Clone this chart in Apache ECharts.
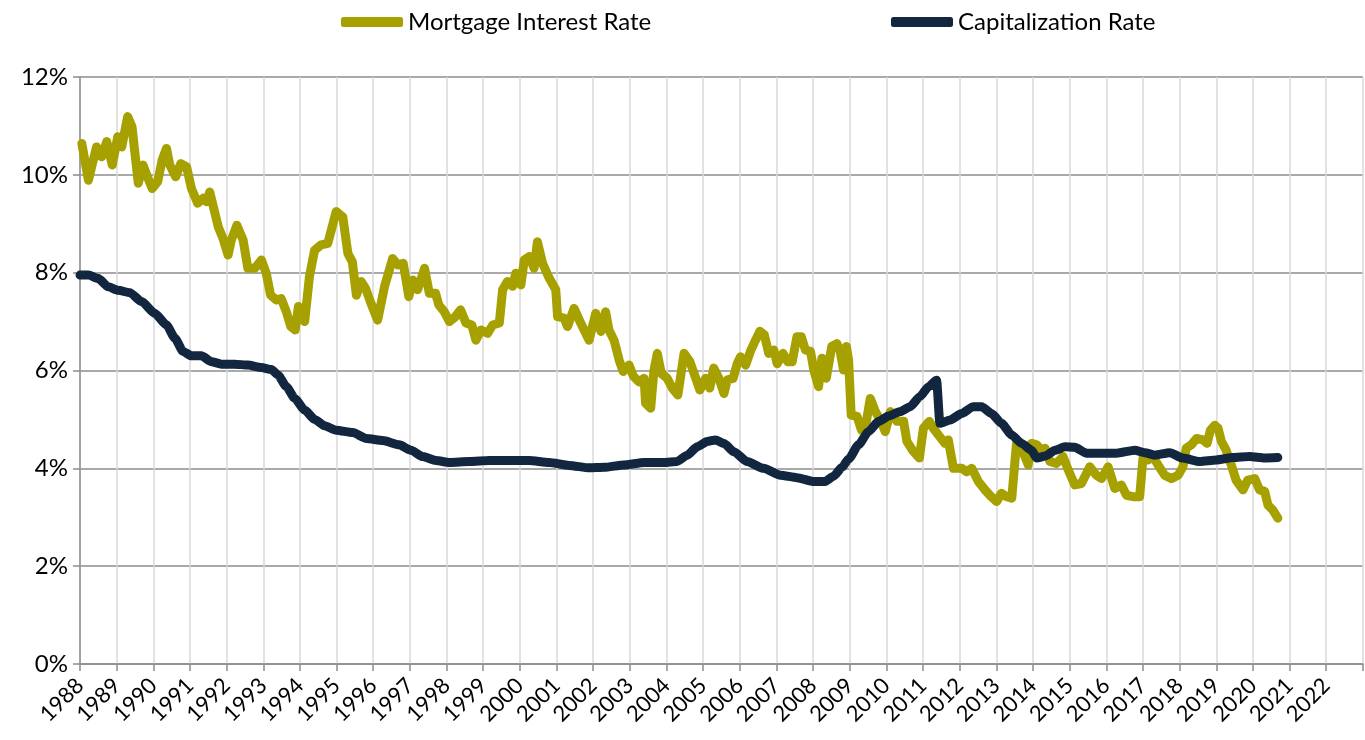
<!DOCTYPE html>
<html>
<head>
<meta charset="utf-8">
<title>Mortgage Interest Rate vs Capitalization Rate</title>
<script src="https://cdn.jsdelivr.net/npm/echarts@6/dist/echarts.min.js"></script>
<style>
	html, body { margin: 0; padding: 0; background: #ffffff; }
	#chart { width: 1365px; height: 740px; }
</style>
</head>
<body>
<div id="chart"></div>
<script>
// series names
const seriesNames = ['Mortgage Interest Rate', 'Capitalization Rate'];

// mortgage rate (decimal year, %)
const mortgageDates = [
	1988.05, 1988.23, 1988.45, 1988.59, 1988.73, 1988.88, 1989.03, 1989.14, 1989.30, 1989.42,
	1989.59, 1989.72, 1989.84, 1989.97, 1990.12, 1990.24, 1990.36, 1990.45, 1990.61, 1990.75,
	1990.91, 1991.04, 1991.21, 1991.36, 1991.45, 1991.54, 1991.66, 1991.77, 1991.90, 1992.04,
	1992.13, 1992.28, 1992.45, 1992.58, 1992.77, 1992.95, 1993.08, 1993.20, 1993.36, 1993.49,
	1993.63, 1993.75, 1993.87, 1993.96, 1994.13, 1994.26, 1994.40, 1994.58, 1994.76, 1994.99,
	1995.17, 1995.31, 1995.43, 1995.54, 1995.67, 1995.79, 1995.94, 1996.12, 1996.31, 1996.53,
	1996.67, 1996.82, 1996.97, 1997.08, 1997.21, 1997.40, 1997.53, 1997.70, 1997.79, 1997.94,
	1998.08, 1998.24, 1998.38, 1998.53, 1998.69, 1998.80, 1998.94, 1999.12, 1999.26, 1999.44,
	1999.53, 1999.66, 1999.80, 1999.89, 2000.03, 2000.12, 2000.26, 2000.39, 2000.48, 2000.62,
	2000.80, 2000.98, 2001.03, 2001.21, 2001.30, 2001.48, 2001.66, 2001.89, 2002.07, 2002.21,
	2002.34, 2002.43, 2002.57, 2002.71, 2002.82, 2002.98, 2003.10, 2003.25, 2003.39, 2003.43,
	2003.57, 2003.66, 2003.75, 2003.86, 2004.02, 2004.16, 2004.31, 2004.48, 2004.64, 2004.80,
	2004.91, 2005.07, 2005.18, 2005.29, 2005.43, 2005.57, 2005.66, 2005.82, 2005.93, 2006.02,
	2006.16, 2006.29, 2006.43, 2006.55, 2006.67, 2006.79, 2006.93, 2007.02, 2007.18, 2007.31,
	2007.43, 2007.56, 2007.68, 2007.79, 2007.93, 2008.02, 2008.15, 2008.24, 2008.36, 2008.51,
	2008.65, 2008.74, 2008.83, 2008.91, 2008.97, 2009.04, 2009.20, 2009.32, 2009.43, 2009.56,
	2009.70, 2009.83, 2009.97, 2010.11, 2010.29, 2010.47, 2010.56, 2010.71, 2010.90, 2011.01,
	2011.17, 2011.28, 2011.42, 2011.60, 2011.69, 2011.83, 2012.06, 2012.19, 2012.33, 2012.51,
	2012.69, 2012.86, 2013.01, 2013.14, 2013.28, 2013.42, 2013.55, 2013.69, 2013.87, 2013.96,
	2014.10, 2014.23, 2014.33, 2014.46, 2014.64, 2014.82, 2014.96, 2015.14, 2015.32, 2015.55,
	2015.73, 2015.87, 2016.05, 2016.23, 2016.41, 2016.55, 2016.73, 2016.91, 2017.00, 2017.14,
	2017.28, 2017.41, 2017.59, 2017.77, 2017.96, 2018.09, 2018.18, 2018.32, 2018.46, 2018.64,
	2018.75, 2018.84, 2018.96, 2019.05, 2019.14, 2019.27, 2019.41, 2019.54, 2019.73, 2019.86,
	2020.05, 2020.18, 2020.32, 2020.41, 2020.54, 2020.68
];
const mortgageRates = [
	10.64, 9.89, 10.57, 10.37, 10.68, 10.20, 10.78, 10.57, 11.19, 10.98,
	9.83, 10.20, 9.96, 9.72, 9.86, 10.30, 10.54, 10.20, 9.96, 10.23,
	10.16, 9.72, 9.42, 9.52, 9.45, 9.65, 9.28, 8.94, 8.70, 8.36,
	8.67, 8.97, 8.67, 8.09, 8.09, 8.26, 7.99, 7.54, 7.44, 7.47,
	7.20, 6.90, 6.83, 7.31, 7.00, 7.92, 8.46, 8.57, 8.60, 9.25,
	9.14, 8.39, 8.22, 7.54, 7.82, 7.68, 7.37, 7.03, 7.72, 8.29,
	8.16, 8.19, 7.51, 7.85, 7.65, 8.09, 7.58, 7.58, 7.34, 7.20,
	7.00, 7.10, 7.24, 6.97, 6.93, 6.62, 6.83, 6.76, 6.93, 6.97,
	7.65, 7.82, 7.72, 7.99, 7.75, 8.26, 8.33, 8.09, 8.63, 8.19,
	7.89, 7.65, 7.10, 7.07, 6.90, 7.27, 6.97, 6.62, 7.17, 6.80,
	7.20, 6.83, 6.62, 6.21, 5.98, 6.11, 5.88, 5.77, 5.84, 5.33,
	5.23, 6.01, 6.35, 5.94, 5.84, 5.64, 5.50, 6.35, 6.18, 5.84,
	5.60, 5.84, 5.64, 6.05, 5.84, 5.53, 5.81, 5.84, 6.14, 6.28,
	6.11, 6.39, 6.62, 6.80, 6.73, 6.35, 6.42, 6.14, 6.35, 6.18,
	6.18, 6.69, 6.69, 6.42, 6.39, 6.01, 5.67, 6.25, 5.84, 6.49,
	6.55, 6.39, 6.01, 6.49, 6.20, 5.09, 5.06, 4.78, 4.85, 5.43,
	5.16, 4.99, 4.75, 5.16, 4.96, 4.96, 4.55, 4.37, 4.21, 4.82,
	4.96, 4.82, 4.68, 4.51, 4.58, 4.00, 4.00, 3.93, 4.00, 3.73,
	3.56, 3.42, 3.32, 3.49, 3.42, 3.39, 4.51, 4.41, 4.07, 4.51,
	4.48, 4.37, 4.41, 4.14, 4.10, 4.24, 3.97, 3.66, 3.69, 4.03,
	3.86, 3.79, 4.03, 3.59, 3.66, 3.45, 3.42, 3.42, 4.21, 4.17,
	4.24, 4.07, 3.86, 3.79, 3.86, 4.03, 4.41, 4.48, 4.61, 4.58,
	4.51, 4.78, 4.88, 4.82, 4.55, 4.37, 4.07, 3.76, 3.56, 3.76,
	3.79, 3.56, 3.53, 3.25, 3.15, 2.98
];

// cap rate (decimal year, %)
const capDates = [
	1988.00, 1988.23, 1988.50, 1988.77, 1989.04, 1989.36, 1989.68, 1990.04, 1990.36, 1990.59,
	1990.81, 1991.04, 1991.31, 1991.59, 1991.86, 1992.22, 1992.58, 1992.95, 1993.22, 1993.40,
	1993.63, 1993.86, 1994.13, 1994.40, 1994.67, 1994.99, 1995.44, 1995.81, 1996.26, 1996.71,
	1997.03, 1997.35, 1997.71, 1998.08, 1998.62, 1999.17, 1999.71, 2000.25, 2000.80, 2001.34,
	2001.89, 2002.30, 2002.84, 2003.39, 2003.93, 2004.29, 2004.57, 2004.84, 2005.11, 2005.34,
	2005.57, 2005.84, 2006.20, 2006.65, 2007.11, 2007.56, 2008.02, 2008.33, 2008.56, 2008.79,
	2008.97, 2009.24, 2009.51, 2009.79, 2010.06, 2010.38, 2010.65, 2010.92, 2011.15, 2011.37,
	2011.46, 2011.74, 2012.05, 2012.37, 2012.60, 2012.87, 2013.14, 2013.42, 2013.69, 2013.96,
	2014.10, 2014.33, 2014.60, 2014.87, 2015.14, 2015.46, 2015.82, 2016.28, 2016.78, 2017.05,
	2017.32, 2017.73, 2018.09, 2018.55, 2019.00, 2019.45, 2019.91, 2020.32, 2020.68
];
const capRates = [
	7.95, 7.95, 7.88, 7.71, 7.64, 7.59, 7.41, 7.17, 6.93, 6.66,
	6.39, 6.30, 6.30, 6.18, 6.13, 6.13, 6.11, 6.06, 6.02, 5.91,
	5.67, 5.43, 5.19, 5.00, 4.87, 4.78, 4.73, 4.61, 4.57, 4.48,
	4.37, 4.24, 4.16, 4.12, 4.14, 4.16, 4.16, 4.16, 4.12, 4.06,
	4.01, 4.02, 4.07, 4.12, 4.12, 4.14, 4.27, 4.44, 4.55, 4.58,
	4.51, 4.34, 4.14, 4.00, 3.86, 3.81, 3.73, 3.73, 3.84, 4.02,
	4.19, 4.48, 4.75, 4.96, 5.07, 5.16, 5.26, 5.47, 5.67, 5.80,
	4.92, 4.99, 5.12, 5.26, 5.26, 5.12, 4.92, 4.68, 4.51, 4.37,
	4.21, 4.25, 4.37, 4.44, 4.43, 4.31, 4.31, 4.31, 4.37, 4.32,
	4.27, 4.32, 4.21, 4.14, 4.17, 4.22, 4.24, 4.21, 4.22
];

// axis ranges
const yearMin = 1988;
const yearMax = 2023;
const rateMin = 0;
const rateMax = 12;

function zip(xs, ys) {
	return xs.map(function (x, i) { return [x, ys[i]]; });
}

const chart = echarts.init(document.getElementById('chart'), null, { renderer: 'canvas' });

const fontFamily = 'Lato, "Open Sans", sans-serif';
const legendText = { color: '#000000', fontSize: 24, fontFamily: fontFamily };

var option = {
	backgroundColor: '#ffffff',
	animation: false,
	legend: [{
		data: [seriesNames[0]],
		left: 336,
		top: 5,
		icon: 'roundRect',
		itemWidth: 62,
		itemHeight: 10,
		textStyle: legendText
	}, {
		data: [seriesNames[1]],
		left: 886,
		top: 5,
		icon: 'roundRect',
		itemWidth: 62,
		itemHeight: 10,
		textStyle: legendText
	}],
	grid: {
		left: 80,
		right: 0,
		top: 77,
		bottom: 76,
		containLabel: false
	},
	xAxis: {
		type: 'value',
		min: yearMin,
		max: yearMax,
		interval: 1,
		axisLine: { show: true, lineStyle: { color: '#8c8c8c', width: 1.5 } },
		axisTick: { show: true, length: 7, lineStyle: { color: '#8c8c8c', width: 1.5 } },
		axisLabel: {
			rotate: 45,
			margin: 18,
			color: '#000000',
			fontSize: 22,
			fontFamily: fontFamily,
			formatter: function (v) { return v === yearMax ? '' : String(v); }
		},
		splitLine: { show: true, lineStyle: { color: '#d9d9d9', width: 1.5 } }
	},
	yAxis: {
		type: 'value',
		min: rateMin,
		max: rateMax,
		interval: 2,
		axisLine: { show: true, lineStyle: { color: '#8c8c8c', width: 1.5 } },
		axisTick: { show: true, length: 7, lineStyle: { color: '#8c8c8c', width: 1.5 } },
		axisLabel: {
			margin: 12,
			color: '#000000',
			fontSize: 24,
			fontFamily: fontFamily,
			formatter: '{value}%'
		},
		splitLine: { show: true, lineStyle: { color: '#8c8c8c', width: 1.5 } }
	},
	series: [{
		name: seriesNames[0],
		type: 'line',
		data: zip(mortgageDates, mortgageRates),
		showSymbol: false,
		symbol: 'none',
		itemStyle: { color: '#a6a100' },
		lineStyle: { color: '#a6a100', width: 9, cap: 'round', join: 'round' },
		z: 2
	}, {
		name: seriesNames[1],
		type: 'line',
		data: zip(capDates, capRates),
		showSymbol: false,
		symbol: 'none',
		smooth: 0.2,
		smoothMonotone: 'x',
		itemStyle: { color: '#12263f' },
		lineStyle: { color: '#12263f', width: 9, cap: 'round', join: 'round' },
		z: 3
	}]
};

chart.setOption(option);
</script>
</body>
</html>
